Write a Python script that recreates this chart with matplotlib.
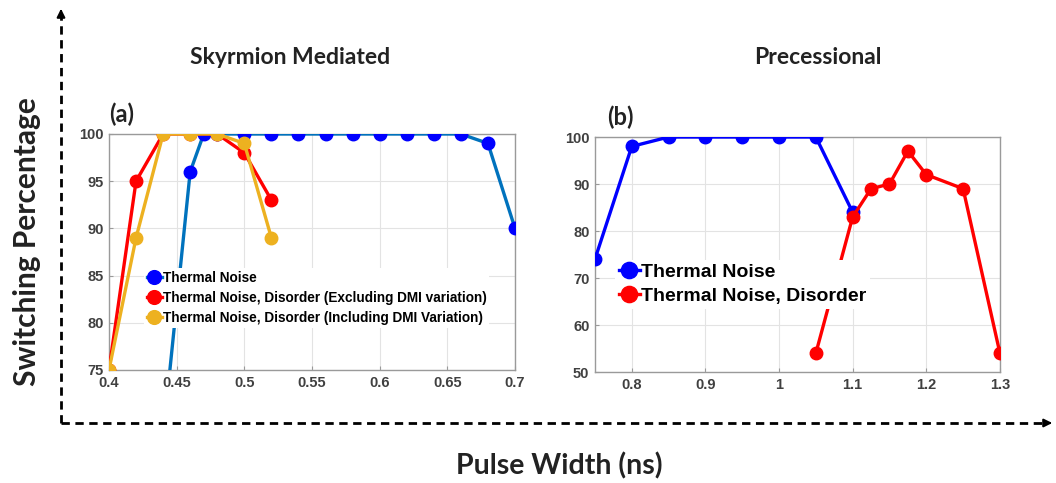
"""Switching percentage vs pulse width: skyrmion mediated vs precessional."""

import matplotlib.pyplot as plt
from matplotlib.lines import Line2D

# panel (a): skyrmion mediated
a_tn_x = [0.44, 0.46, 0.47, 0.48, 0.50, 0.52, 0.54, 0.56, 0.58, 0.60, 0.62, 0.64, 0.66, 0.68, 0.70]
a_tn_y = [68, 96, 100, 100, 100, 100, 100, 100, 100, 100, 100, 100, 100, 99, 90]
a_ex_x = [0.40, 0.42, 0.44, 0.46, 0.48, 0.50, 0.52]
a_ex_y = [75, 95, 100, 100, 100, 98, 93]
a_in_x = [0.40, 0.42, 0.44, 0.46, 0.48, 0.50, 0.52]
a_in_y = [75, 89, 100, 100, 100, 99, 89]

# panel (b): precessional
b_tn_x = [0.75, 0.80, 0.85, 0.90, 0.95, 1.00, 1.05, 1.10]
b_tn_y = [74, 98, 100, 100, 100, 100, 100, 84]
b_dis_x = [1.05, 1.10, 1.125, 1.15, 1.175, 1.20, 1.25, 1.30]
b_dis_y = [54, 83, 89, 90, 97, 92, 89, 54]

a_xticks = [0.4, 0.45, 0.5, 0.55, 0.6, 0.65, 0.7]
a_yticks = [75, 80, 85, 90, 95, 100]
b_xticks = [0.8, 0.9, 1.0, 1.1, 1.2, 1.3]
b_yticks = [50, 60, 70, 80, 90, 100]

BLUE = "#0000FF"
MBLUE = "#0072BD"
RED = "#FF0000"
YEL = "#EDB120"
TICK = "#404040"

plt.rcParams["font.family"] = ["Liberation Sans", "DejaVu Sans"]

fig = plt.figure(figsize=(10.56, 4.83), dpi=100)
ax_a = fig.add_axes([0.1032, 0.234, 0.3845, 0.4886])
ax_b = fig.add_axes([0.5634, 0.2298, 0.3835, 0.4865])

lw, ms = 2.4, 9

ax_a.plot(a_tn_x, a_tn_y, color=MBLUE, lw=lw, marker="o", ms=ms,
          mfc=BLUE, mec=BLUE, label="Thermal Noise", zorder=3)
ax_a.plot(a_ex_x, a_ex_y, color=RED, lw=lw, marker="o", ms=ms,
          label="Thermal Noise, Disorder (Excluding DMI variation)", zorder=4)
ax_a.plot(a_in_x, a_in_y, color=YEL, lw=lw, marker="o", ms=ms,
          label="Thermal Noise, Disorder (Including DMI Variation)", zorder=5)
ax_a.set_xlim(0.4, 0.7)
ax_a.set_ylim(75, 100)
ax_a.set_xticks(a_xticks)
ax_a.set_xticklabels([f"{t:g}" for t in a_xticks])
ax_a.set_yticks(a_yticks)

ax_b.plot(b_tn_x, b_tn_y, color=BLUE, lw=lw, marker="o", ms=ms,
          label="Thermal Noise", zorder=3)
ax_b.plot(b_dis_x, b_dis_y, color=RED, lw=lw, marker="o", ms=ms,
          label="Thermal Noise, Disorder", zorder=4)
ax_b.set_xlim(0.75, 1.3)
ax_b.set_ylim(50, 100)
ax_b.set_xticks(b_xticks)
ax_b.set_xticklabels([f"{t:g}" for t in b_xticks])
ax_b.set_yticks(b_yticks)

for ax in (ax_a, ax_b):
    ax.grid(True, color="#e3e3e3", lw=0.8, zorder=0)
    ax.set_axisbelow(True)
    for s in ax.spines.values():
        s.set_color("#9a9a9a")
        s.set_linewidth(1.0)
    ax.tick_params(direction="in", length=3, color="#9a9a9a", pad=4,
                   labelsize=10.5, labelcolor=TICK)
    for t in ax.get_xticklabels() + ax.get_yticklabels():
        t.set_fontweight("bold")

leg_a = ax_a.legend(loc="center left", bbox_to_anchor=(0.07, 0.305), frameon=True,
                    fancybox=False, edgecolor="none", framealpha=1,
                    handlelength=1.1, handletextpad=0.05, borderpad=0.2,
                    labelspacing=0.45, markerscale=1.1,
                    prop={"weight": "bold", "size": 9.8})
leg_a.set_zorder(10)
leg_b = ax_b.legend(loc="center left", bbox_to_anchor=(0.025, 0.374), frameon=True,
                    fancybox=False, edgecolor="none", framealpha=1,
                    handlelength=1.1, handletextpad=0.05, borderpad=0.2,
                    labelspacing=0.3, markerscale=1.3,
                    prop={"weight": "bold", "size": 14})
leg_b.set_zorder(10)

lab_kw = dict(fontsize=17, fontweight="bold", color="#222222",
              family=["Lato", "DejaVu Sans"], va="bottom")
ax_a.text(0.0, 1.035, "(a)", transform=ax_a.transAxes, **lab_kw)
ax_b.text(0.03, 1.035, "(b)", transform=ax_b.transAxes, **lab_kw)

title_kw = dict(fontweight="bold", color="#222222",
                family=["Lato", "DejaVu Sans"], ha="center", va="center")
fig.text(290 / 1056, 1 - 57 / 483, "Skyrmion Mediated", fontsize=16.5, **title_kw)
fig.text(818 / 1056, 1 - 57 / 483, "Precessional", fontsize=16.5, **title_kw)
fig.text(559 / 1056, 1 - 466 / 483, "Pulse Width (ns)", fontsize=20.5, **title_kw)
fig.text(27 / 1056, 1 - 242 / 483, "Switching Percentage", rotation=90,
         fontsize=21.5, **title_kw)

# dashed frame arrows
ov = fig.add_axes([0, 0, 1, 1], facecolor="none")
ov.set_xlim(0, 1056)
ov.set_ylim(483, 0)
ov.axis("off")
ov.add_line(Line2D([61, 61], [423, 14], color="black", lw=2, ls=(0, (3, 2))))
ov.add_line(Line2D([61, 1046], [423, 423], color="black", lw=2, ls=(0, (3, 2))))
ov.annotate("", xy=(61, 6), xytext=(61, 16),
            arrowprops=dict(arrowstyle="-|>", color="black", lw=1.5, mutation_scale=12))
ov.annotate("", xy=(1055, 423), xytext=(1045, 423),
            arrowprops=dict(arrowstyle="-|>", color="black", lw=1.5, mutation_scale=12))

fig.savefig("out.png", dpi=100)
